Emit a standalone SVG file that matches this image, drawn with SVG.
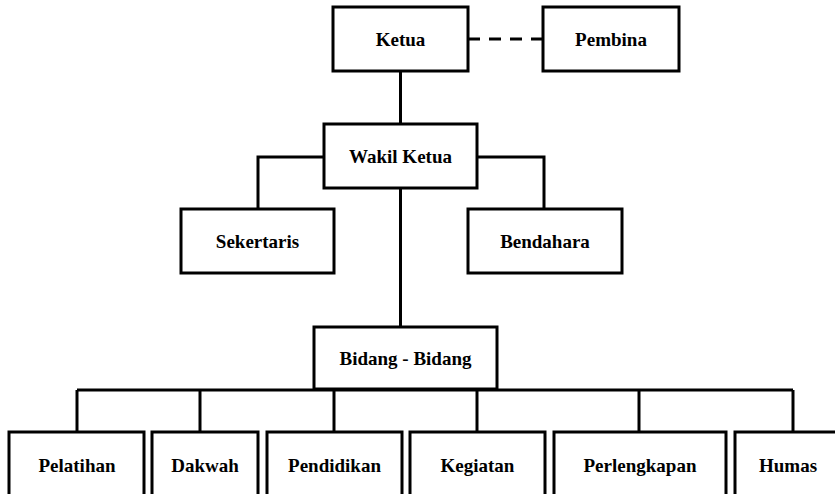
<svg xmlns="http://www.w3.org/2000/svg" width="835" height="494" viewBox="0 0 835 494">
<style>
.box{fill:#fff;stroke:#000;stroke-width:3}
.t{font-family:"Liberation Serif","Times New Roman",serif;font-weight:bold;font-size:19px;text-anchor:middle;fill:#000}
.c{fill:none;stroke:#000;stroke-width:3}
.d{fill:none;stroke:#000;stroke-width:3;stroke-dasharray:12,9}
</style>
<rect width="835" height="494" fill="#fff"/>
<g id="connectors">
<line class="d" x1="468" y1="39" x2="543" y2="39"/>
<line class="c" x1="400.5" y1="71" x2="400.5" y2="124"/>
<polyline class="c" points="324,157 258,157 258,209"/>
<polyline class="c" points="477,157 544,157 544,209"/>
<line class="c" x1="400.5" y1="188" x2="400.5" y2="327"/>
<line class="c" x1="77" y1="390" x2="793" y2="390"/>
<line class="c" x1="77" y1="390" x2="77" y2="432"/>
<line class="c" x1="200" y1="390" x2="200" y2="432"/>
<line class="c" x1="334" y1="390" x2="334" y2="432"/>
<line class="c" x1="477" y1="390" x2="477" y2="432"/>
<line class="c" x1="639" y1="390" x2="639" y2="432"/>
<line class="c" x1="793" y1="390" x2="793" y2="432"/>
</g>
<g id="ketua"><rect class="box" x="333" y="7" width="135" height="64"/><text class="t" x="400.5" y="46">Ketua</text></g>
<g id="pembina"><rect class="box" x="543" y="7" width="136" height="64"/><text class="t" x="611" y="46">Pembina</text></g>
<g id="wakil"><rect class="box" x="324" y="124" width="153" height="64"/><text class="t" x="400.5" y="163">Wakil Ketua</text></g>
<g id="sekertaris"><rect class="box" x="181" y="209" width="153" height="64"/><text class="t" x="257.5" y="248">Sekertaris</text></g>
<g id="bendahara"><rect class="box" x="468" y="209" width="154" height="64"/><text class="t" x="545" y="248">Bendahara</text></g>
<g id="bidang"><rect class="box" x="314" y="327" width="183" height="62"/><text class="t" x="405.5" y="365">Bidang - Bidang</text></g>
<g id="pelatihan"><rect class="box" x="9" y="432" width="135" height="70"/><text class="t" x="77" y="472">Pelatihan</text></g>
<g id="dakwah"><rect class="box" x="152" y="432" width="106" height="70"/><text class="t" x="205" y="472">Dakwah</text></g>
<g id="pendidikan"><rect class="box" x="267" y="432" width="135" height="70"/><text class="t" x="334.5" y="472">Pendidikan</text></g>
<g id="kegiatan"><rect class="box" x="410" y="432" width="135" height="70"/><text class="t" x="477.5" y="472">Kegiatan</text></g>
<g id="perlengkapan"><rect class="box" x="554" y="432" width="172" height="70"/><text class="t" x="640" y="472">Perlengkapan</text></g>
<g id="humas"><rect class="box" x="735" y="432" width="107" height="70"/><text class="t" x="788" y="472">Humas</text></g>
</svg>
